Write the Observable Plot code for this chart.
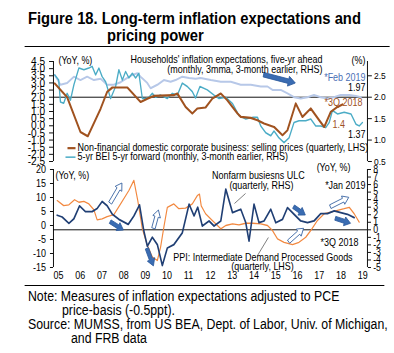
<!DOCTYPE html>
<html><head><meta charset="utf-8">
<script src="https://cdn.jsdelivr.net/npm/d3@7"></script>
<script src="https://cdn.jsdelivr.net/npm/@observablehq/plot@0.6"></script>
<style>
html,body{margin:0;padding:0;background:#fff;overflow:hidden;}
#outer{position:relative;width:394px;height:353px;overflow:hidden;}
#wrap{position:absolute;left:0;top:0;width:448px;height:353px;transform:scaleX(0.8795);transform-origin:0 0;font-family:"Liberation Sans",Arial,sans-serif;color:#000;}
.t{position:absolute;white-space:nowrap;line-height:1;}
.title{font-weight:bold;font-size:16.8px;}
.note{font-size:14px;}
.rule{position:absolute;height:1px;background:#000;}
#top,#bot{position:absolute;left:0;}
</style></head>
<body><div id="outer"><div id="wrap">
<div class="t title" style="left:31.8px;top:10.8px">Figure 18. Long-term inflation expectations and</div>
<div class="t title" style="left:121.7px;top:27.8px">pricing power</div>
<div class="rule" style="left:28.4px;top:46px;width:415px"></div>
<div id="top" style="top:50px"></div>
<div id="bot" style="top:163px"></div>
<div class="rule" style="left:28.4px;top:285px;width:409px"></div>
<div class="t note" style="left:31.8px;top:288.6px">Note: Measures of inflation expectations adjusted to PCE</div>
<div class="t note" style="left:70.5px;top:303px">price-basis (-0.5ppt).</div>
<div class="t note" style="left:31.8px;top:317.4px">Source: MUMSS, from US BEA, Dept. of Labor, Univ. of Michigan,</div>
<div class="t note" style="left:80.7px;top:331px">and FRB data</div>
</div></div>
<script>
// ---------- TOP PANEL DATA ----------
// Non-financial domestic corporate business: selling prices (quarterly, LHS)
const corpYears = [2005.06,2005.63,2006.24,2006.58,2007.17,2007.47,2007.71,2008.40,2009.01,2009.32,2009.62,2010.53,2010.70,2011.08,2011.39,2011.62,2012.00,2012.31,2012.70,2013.00,2013.47,2013.62,2014.08,2014.39,2014.69,2015.15,2015.54,2015.77,2016.15,2016.46,2016.84,2017.23,2017.46,2017.76,2018.07,2018.30];
const corpVals  = [2.96,2.0,-0.43,-0.73,1.2,2.37,2.68,2.68,1.67,1.9,2.09,2.14,2.26,1.32,0.86,1.21,1.28,1.9,2.26,1.79,0.86,0.62,0.55,0.39,0.16,-0.08,-0.66,-0.31,1.56,0.62,1.21,0.39,-0.08,0.97,1.32,1.49];
// 5-yr BEI 5-yr forward (monthly, 3-month earlier, RHS)
const beiYears = [2005.06,2005.24,2005.32,2005.47,2005.63,2005.78,2005.94,2006.17,2006.40,2006.63,2006.78,2006.94,2007.09,2007.24,2007.40,2007.63,2007.86,2008.01,2008.17,2008.32,2008.47,2008.63,2008.78,2008.93,2009.09,2009.24,2009.39,2009.55,2009.70,2009.93,2010.24,2010.47,2010.70,2010.93,2011.16,2011.39,2011.54,2011.74,2012.08,2012.39,2012.62,2012.93,2013.24,2013.54,2013.85,2014.16,2014.39,2014.54,2014.77,2015.00,2015.15,2015.38,2015.61,2015.84,2016.07,2016.30,2016.61,2016.84,2017.07,2017.30,2017.53,2017.69,2017.84,2018.07,2018.38,2018.69,2018.92,2019.07,2019.22];
const beiVals  = [2.52,2.4,1.89,1.86,2.09,1.93,2.29,2.68,2.64,2.68,2.72,2.52,2.68,2.48,2.36,1.97,2.25,2.64,2.4,2.6,2.45,2.56,2.45,2.56,1.97,1.97,2.0,2.09,2.0,2.05,1.97,2.09,2.05,2.33,2.25,2.13,1.98,2.25,2.17,2.05,1.97,2.0,1.85,1.57,1.49,1.53,1.53,1.33,1.17,1.1,1.21,1.05,0.94,1.05,1.41,1.45,1.45,1.49,1.33,1.33,1.29,1.41,1.69,1.61,1.65,1.61,1.37,1.33,1.41];
// Households' inflation expectations, five-yr ahead (RHS)
const hhYears = [2005.06,2005.32,2005.63,2005.94,2006.24,2006.55,2006.86,2007.17,2007.47,2007.78,2008.09,2008.40,2008.63,2008.86,2009.01,2009.32,2009.47,2009.78,2010.08,2010.39,2010.62,2010.93,2011.24,2011.54,2011.77,2012.24,2012.70,2013.16,2013.62,2014.08,2014.54,2014.85,2015.08,2015.46,2015.77,2016.07,2016.38,2016.69,2016.99,2017.30,2017.60,2017.91,2018.22,2018.61,2018.92,2019.15];
const hhVals  = [2.52,2.29,2.33,2.48,2.4,2.48,2.4,2.43,2.29,2.29,2.35,2.45,2.52,2.56,2.48,2.33,2.21,2.29,2.4,2.36,2.4,2.48,2.45,2.43,2.45,2.4,2.36,2.36,2.29,2.29,2.25,2.25,2.17,2.17,2.09,2.0,1.97,2.0,2.05,2.0,1.97,2.0,2.05,2.05,2.03,2.0];
const topLeftTicks = [4.5,4,3.5,3,2.5,2,1.5,1,0.5,0,-0.5,-1,-1.5,-2,-2.5];
const topRightTicks = [2.5,2.0,1.5,1.0,0.5];

// ---------- BOTTOM PANEL DATA ----------
// PPI: Intermediate Demand Processed Goods (LHS)
const ppiYears = [2005.17,2005.47,2005.71,2005.97,2006.17,2006.40,2006.63,2006.86,2007.01,2007.24,2007.47,2007.78,2008.09,2008.47,2008.70,2008.88,2009.09,2009.32,2009.55,2009.78,2009.93,2010.08,2010.24,2010.54,2010.77,2011.08,2011.39,2011.62,2011.72,2011.80,2012.00,2012.31,2012.70,2012.93,2013.24,2013.54,2013.85,2014.16,2014.54,2014.85,2015.08,2015.31,2015.61,2016.00,2016.30,2016.61,2016.84,2017.15,2017.46,2017.76,2018.07,2018.38,2018.61,2018.84,2019.07];
const ppiVals  = [8.9,7.1,7.4,9.2,8.3,8.6,7.7,5.6,2.0,2.4,3.2,3.9,7.7,12.5,16.1,8.9,-1.2,-7.1,-11.3,-12.5,-7.7,-0.6,6.5,7.7,6.0,6.2,7.7,10.7,11.2,7.0,4.2,1.8,-1.2,0,0.6,0.25,0.8,0.8,0.6,0,-1.8,-4.8,-6.0,-6.8,-6.0,-4.2,-1.8,1.8,4.2,4.8,5.4,6.0,6.5,4.2,1.2];
// Nonfarm business ULC (RHS)
const ulcYears = [2005.17,2005.40,2005.71,2005.94,2006.20,2006.47,2006.78,2007.01,2007.24,2007.47,2007.71,2008.01,2008.44,2008.70,2008.96,2009.16,2009.32,2009.55,2009.78,2010.01,2010.24,2010.54,2010.93,2011.24,2011.47,2011.64,2011.85,2012.16,2012.39,2012.70,2012.93,2013.24,2013.62,2013.85,2014.00,2014.23,2014.46,2014.69,2015.00,2015.23,2015.54,2015.77,2016.07,2016.38,2016.69,2016.99,2017.30,2017.61,2017.92,2018.22,2018.53,2018.84];
const ulcVals  = [1.93,1.7,0.86,1.47,3.18,2.41,2.41,2.82,3.75,3.18,2.06,1.39,0.72,1.84,3.31,-0.17,-2.18,-0.98,-1.96,-4.73,-2.41,-1.96,-0.4,3.4,1.84,3.0,0.5,1.17,0.5,1.17,5.4,2.28,2.73,0.94,-1.51,3.4,0.94,1.17,2.73,0.94,1.39,2.95,2.06,1.17,0.94,1.17,2.15,2.15,2.5,2.28,2.06,1.61];
const botLeftTicks = [20,15,10,5,0,-5,-10,-15];
const botRightTicks = [8,7,6,5,4,3,2,1,0,-1,-2,-3,-4,-5];
const yearTicks = [2005,2006,2007,2008,2009,2010,2011,2012,2013,2014,2015,2016,2017,2018,2019];
const yearLabels = ["05","06","07","08","09","10","11","12","13","14","15","16","17","18","19"];

// ---------- ANNOTATIONS ----------
const topArrowX1=[2014.69], topArrowY1=[3.54], topArrowX2=[2016.15], topArrowY2=[2.96], topArrowHollow=[false];
const botArrowX1=[2007.63,2007.63,2009.62,2009.32,2016.07,2015.84,2017.76,2017.99];
const botArrowY1=[7.86,1.18,-1.18,-8.32,6.54,-5.96,6.54,2.39];
const botArrowX2=[2008.17,2008.24,2009.85,2009.62,2016.61,2016.53,2018.61,2018.69];
const botArrowY2=[15.0,-1.79,5.36,-14.6,3.57,-1.18,9.89,0.61];
const botArrowHollow=[true,false,true,false,false,true,true,false];

const FONT = "Liberation Sans, Arial, sans-serif";
const W = 448, ML = 60.3, MR = 30.7;
const XDOM = [2005, 2019.45];
const C = {corp:"#a0521f", bei:"#4bacc6", hh:"#b7c8e8", ppi:"#f2883f", ulc:"#203f74", arrow:"#3a6cb2", arrowEdge:"#2c5a9c"};

const rhsTop = r => 3*r - 4;                 // RHS -> LHS (top)
const rhsBot = r => (r + 5)*35/13 - 15;      // RHS -> LHS (bottom)
const zip = (xs, vs, f = v => v) => xs.map((x, i) => ({x, y: f(vs[i])}));

function blockArrows(x1s, y1s, x2s, y2s, hollow, shaft, headW, headL) {
  return (index, scales) => {
    const g = d3.create("svg:g");
    x1s.forEach((_, i) => {
      const ax = scales.x(x1s[i]), ay = scales.y(y1s[i]);
      const bx = scales.x(x2s[i]), by = scales.y(y2s[i]);
      const len = Math.hypot(bx-ax, by-ay), ux = (bx-ax)/len, uy = (by-ay)/len;
      const nx = -uy, ny = ux;
      const cx = bx - ux*headL, cy = by - uy*headL;
      const s = shaft/2, h = headW/2;
      const pts = [[ax+nx*s, ay+ny*s],[cx+nx*s, cy+ny*s],[cx+nx*h, cy+ny*h],[bx,by],[cx-nx*h, cy-ny*h],[cx-nx*s, cy-ny*s],[ax-nx*s, ay-ny*s]];
      g.append("path").attr("d", "M" + pts.map(p => p.join(",")).join("L") + "Z")
        .attr("fill", hollow[i] ? "#fff" : C.arrow)
        .attr("stroke", C.arrowEdge).attr("stroke-width", 0.9).attr("stroke-linejoin", "miter");
    });
    return g.node();
  };
}

function texts(list, size) {
  return ["start", "middle", "end"].map(a =>
    Plot.text(list.filter(d => d.a === a), {x: "x", y: "y", text: "t", fill: "c", textAnchor: a, fontSize: size}));
}

// ---------- TOP PLOT ----------
const topLegend = [
  {x1: 2005.645, x2: 2006.014, y: -1.566, c: C.corp, w: 2.2, t: "Non-financial domestic corporate business: selling prices (quarterly, LHS)"},
  {x1: 2005.553, x2: 2006.014, y: -2.196, c: C.bei, w: 1.5, t: "5-yr BEI 5-yr forward (monthly, 3-month earlier, RHS)"}
];
const topTexts = [
  {x: 2005.23, y: 4.52, t: "(YoY, %)", a: "start", c: "#000"},
  {x: 2019.36, y: 4.52, t: "(%)", a: "end", c: "#000"},
  {x: 2017.38, y: 4.59, t: "Households' inflation expectations, five-yr ahead", a: "end", c: "#000"},
  {x: 2017.38, y: 3.89, t: "(monthly, 3mma, 3-month earlier, RHS)", a: "end", c: "#000"},
  {x: 2019.36, y: 3.33, t: "*Feb 2019", a: "end", c: "#4a6fb5"},
  {x: 2019.36, y: 2.63, t: "1.97", a: "end", c: "#000"},
  {x: 2019.22, y: 1.58, t: "*3Q 2018", a: "end", c: C.corp},
  {x: 2017.84, y: 0.08, t: "1.4", a: "start", c: C.corp},
  {x: 2019.36, y: -0.66, t: "1.37", a: "end", c: "#000"}
];

const topPlot = Plot.plot({
  width: W, height: 113, marginLeft: ML, marginRight: MR, marginTop: 11, marginBottom: 2,
  style: {fontFamily: FONT, background: "transparent", overflow: "visible"},
  x: {domain: XDOM, axis: null},
  y: {domain: [-2.5, 4.5]},
  marks: [
    Plot.ruleY([2], {stroke: "#000", strokeWidth: 1}),
    Plot.line(zip(hhYears, hhVals, rhsTop), {x: "x", y: "y", stroke: C.hh, strokeWidth: 2}),
    Plot.line(zip(beiYears, beiVals, rhsTop), {x: "x", y: "y", stroke: C.bei, strokeWidth: 1.5}),
    Plot.line(zip(corpYears, corpVals), {x: "x", y: "y", stroke: C.corp, strokeWidth: 2.2}),
    blockArrows(topArrowX1, topArrowY1, topArrowX2, topArrowY2, topArrowHollow, 4.5, 10, 8),
    Plot.link(topLegend, {x1: "x1", x2: "x2", y1: "y", y2: "y", stroke: "c", strokeWidth: "w"}),
    Plot.text(topLegend, {x: 2006.11, y: "y", text: "t", textAnchor: "start", fontSize: 10.2, fill: "#000"}),
    ...texts(topTexts, 10.2),
    Plot.ruleX([XDOM[0]], {stroke: "#000"}),
    Plot.ruleX([XDOM[1]], {stroke: "#000"}),
    Plot.axisY(topLeftTicks, {anchor: "left", tickSize: 4.5, tickPadding: 5, fontSize: 11.5, tickFormat: d => d.toFixed(1), label: null}),
    Plot.axisY(topRightTicks.map(rhsTop), {anchor: "right", tickSize: 4.5, tickPadding: 3, fontSize: 9.6, tickFormat: d => ((d + 4)/3).toFixed(1), label: null})
  ]
});
document.getElementById("top").appendChild(topPlot);

// ---------- BOTTOM PLOT ----------
const botTexts = [
  {x: 2005.09, y: 17.86, t: "(YoY, %)", a: "start", c: "#000"},
  {x: 2018.67, y: 20.7, t: "(YoY, %)", a: "end", c: "#000"},
  {x: 2014.43, y: 17.86, t: "Nonfarm busiesns ULC", a: "middle", c: "#000"},
  {x: 2014.57, y: 14.29, t: "(quarterly, RHS)", a: "middle", c: "#000"},
  {x: 2019.36, y: 14.29, t: "*Jan 2019", a: "end", c: "#000"},
  {x: 2017.29, y: -6.07, t: "*3Q 2018", a: "start", c: "#000"},
  {x: 2014.64, y: -11.43, t: "PPI: Intermediate Demand Processed Goods", a: "middle", c: "#000"},
  {x: 2014.62, y: -14.64, t: "(quarterly, LHS)", a: "middle", c: "#000"}
];
const botPointers = [
  {x1: 2013.84, y1: 11.43, x2: 2013.33, y2: 7.86},
  {x1: 2014.89, y1: -4.29, x2: 2014.39, y2: -10.71}
];

const botPlot = Plot.plot({
  width: W, height: 120, marginLeft: ML, marginRight: MR, marginTop: 6, marginBottom: 16,
  style: {fontFamily: FONT, background: "transparent", overflow: "visible"},
  x: {domain: XDOM},
  y: {domain: [-15, 20]},
  marks: [
    Plot.ruleY([rhsBot(0)], {stroke: "#000", strokeWidth: 1}),
    Plot.line(zip(ppiYears, ppiVals), {x: "x", y: "y", stroke: C.ppi, strokeWidth: 1.3}),
    Plot.line(zip(ulcYears, ulcVals, rhsBot), {x: "x", y: "y", stroke: C.ulc, strokeWidth: 1.8}),
    blockArrows(botArrowX1, botArrowY1, botArrowX2, botArrowY2, botArrowHollow, 4, 9, 7),
    Plot.link(botPointers, {x1: "x1", y1: "y1", x2: "x2", y2: "y2", stroke: "#555", strokeWidth: 0.8}),
    ...texts(botTexts, 10.2),
    Plot.ruleX([XDOM[0]], {stroke: "#000"}),
    Plot.ruleX([XDOM[1]], {stroke: "#000"}),
    Plot.axisY(botLeftTicks, {anchor: "left", tickSize: 3.5, tickPadding: 5, fontSize: 10.2, tickFormat: d => String(d), label: null}),
    Plot.axisY(botRightTicks.map(rhsBot), {anchor: "right", tickSize: 3.5, tickPadding: 3, fontSize: 10, tickFormat: d => String(Math.round((d + 15)*13/35 - 5)), label: null}),
    Plot.axisX(yearTicks, {anchor: "bottom", tickSize: 0, tickPadding: 4, textAnchor: "start", fontSize: 10.2, tickFormat: d => yearLabels[yearTicks.indexOf(d)], label: null})
  ]
});
document.getElementById("bot").appendChild(botPlot);
</script>
</body></html>
